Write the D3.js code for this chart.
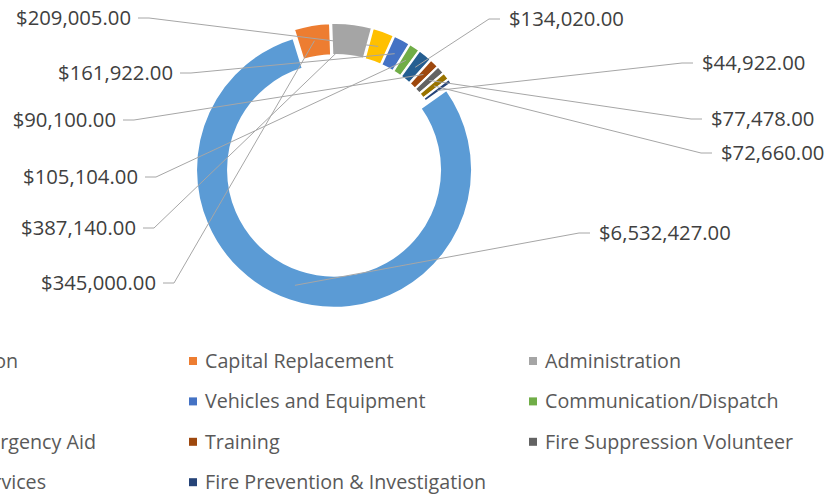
<!DOCTYPE html>
<html>
<head>
<meta charset="utf-8">
<script src="https://cdn.jsdelivr.net/npm/d3@7"></script>
<style>
  html, body { margin: 0; padding: 0; background: #fff; }
  svg { display: block; }
</style>
</head>
<body>
<svg id="chart" width="830" height="494"></svg>
<script>
// ---- data ----
const categories = [
  "Fire Suppression",
  "Capital Replacement",
  "Administration",
  "Facilities",
  "Vehicles and Equipment",
  "Communication/Dispatch",
  "Volunteer Emergency Aid",
  "Training",
  "Fire Suppression Volunteer",
  "Emergency Services",
  "Fire Prevention & Investigation"
];
const values = [6532427, 345000, 387140, 209005, 161922, 105104, 134020, 90100, 77478, 72660, 44922];
const colors = ["#5B9BD5", "#ED7D31", "#A5A5A5", "#FFC000", "#4472C4", "#70AD47",
                "#255E91", "#9E480E", "#636363", "#997300", "#264478"];

// ---- layout (manual label placement, as in the source chart) ----
// [line start x, line start y, side]
const labelAnchors = [
  [590, 233, "right"],
  [163, 283, "left"],
  [143, 228, "left"],
  [138, 18, "left"],
  [180, 73, "left"],
  [145, 177, "left"],
  [500, 19, "right"],
  [123, 120, "left"],
  [702, 119, "right"],
  [712, 153, "right"],
  [693, 63, "right"]
];

const W = 830, H = 494;
const cx = 335.5, cy = 165.5, outerR = 138, innerR = 106, explode = 4.5;
const firstAngle = 54.6 * Math.PI / 180;

const svg = d3.select("#chart");
const fmt = d3.format("$,.2f");

const data = categories.map((c, i) => ({ name: c, value: values[i], color: colors[i], i }));

const pie = d3.pie().sort(null).value(d => d.value)
  .startAngle(firstAngle).endAngle(firstAngle + 2 * Math.PI);
const arcs = pie(data);
const arc = d3.arc().innerRadius(innerR).outerRadius(outerR);

const offset = d => {
  const a = (d.startAngle + d.endAngle) / 2;
  return [Math.sin(a) * explode, -Math.cos(a) * explode];
};

const g = svg.append("g").attr("transform", `translate(${cx},${cy})`);
g.selectAll("path.slice").data(arcs).join("path")
  .attr("class", "slice")
  .attr("d", arc)
  .attr("transform", d => { const o = offset(d); return `translate(${o[0]},${o[1]})`; })
  .attr("fill", d => d.data.color)
  .attr("stroke", "#fff")
  .attr("stroke-width", 2)
  .attr("stroke-linejoin", "miter");

// leader lines
const lineGen = d3.line();
svg.append("g").selectAll("path.leader").data(arcs).join("path")
  .attr("class", "leader")
  .attr("fill", "none")
  .attr("stroke", "#A6A6A6")
  .attr("stroke-width", 1)
  .attr("d", d => {
    const la = labelAnchors[d.data.i];
    const c = arc.centroid(d), o = offset(d);
    const end = [cx + c[0] + o[0], cy + c[1] + o[1]];
    const knee = [la[0] + (la[2] === "left" ? 11 : -11), la[1]];
    return lineGen([[la[0], la[1]], knee, end]);
  });

// data labels
svg.append("g").selectAll("text.lbl").data(arcs).join("text")
  .attr("class", "lbl")
  .attr("x", d => { const la = labelAnchors[d.data.i]; return la[2] === "left" ? la[0] - 7 : la[0] + 9; })
  .attr("y", d => labelAnchors[d.data.i][1])
  .attr("dy", "0.36em")
  .attr("text-anchor", d => labelAnchors[d.data.i][2] === "left" ? "end" : "start")
  .attr("font-family", "'Open Sans', sans-serif")
  .attr("font-size", 20.3)
  .attr("fill", "#404040")
  .text(d => fmt(d.data.value));

// legend (3 columns, row-major)
const legCols = 3, colStep = 340, colX0 = -151, rowY0 = 361, rowStep = 40.4;
const leg = svg.append("g").selectAll("g.leg").data(data).join("g")
  .attr("class", "leg")
  .attr("transform", d => `translate(${colX0 + (d.i % legCols) * colStep},${rowY0 + Math.floor(d.i / legCols) * rowStep})`);
leg.append("rect").attr("x", 0).attr("y", -4).attr("width", 8).attr("height", 8).attr("fill", d => d.color);
leg.append("text").attr("x", 16).attr("y", 0).attr("dy", "0.36em")
  .attr("font-family", "'Open Sans', sans-serif")
  .attr("font-size", 19.7)
  .attr("fill", "#595959")
  .text(d => d.name);
</script>
</body>
</html>
